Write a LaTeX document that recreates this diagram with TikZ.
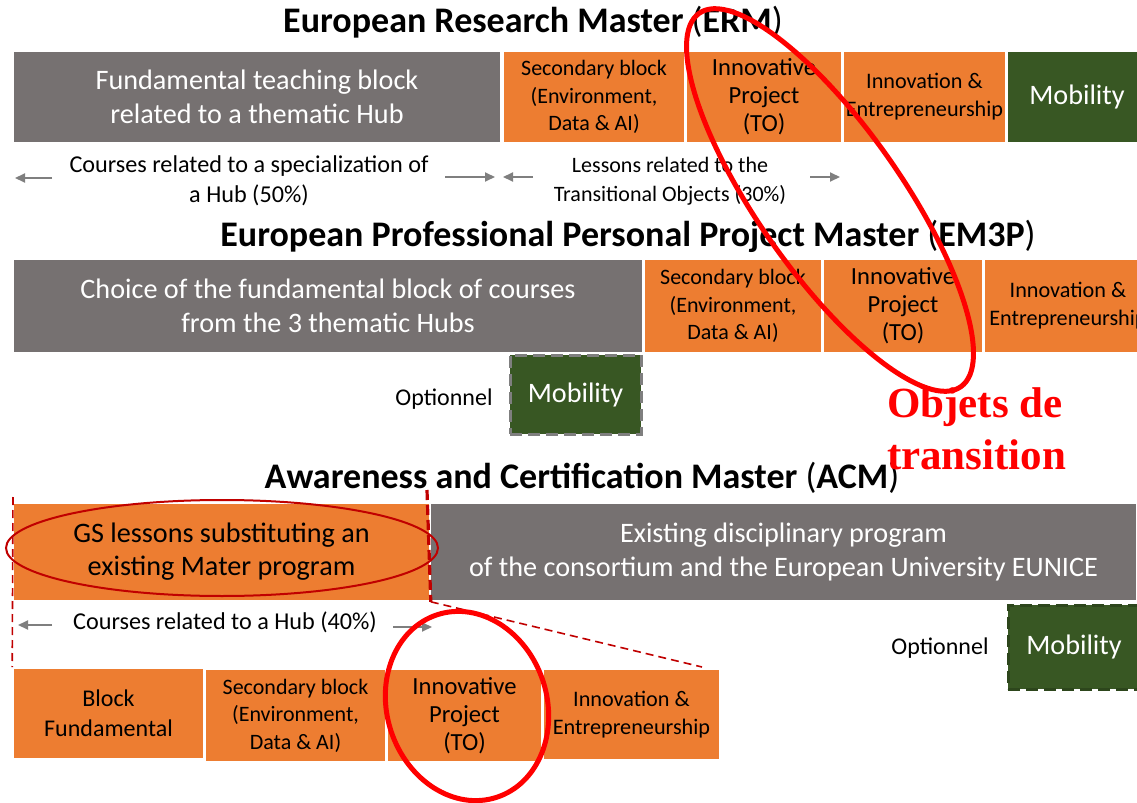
\documentclass[tikz,border=0pt]{standalone}
\usepackage{fontspec}
\setmainfont{Carlito}
\newfontfamily\objfont{Liberation Serif}
\usetikzlibrary{arrows.meta}
\definecolor{boxgrey}{HTML}{767171}
\definecolor{boxorange}{HTML}{ED7D31}
\definecolor{mobgreen}{HTML}{385723}
\definecolor{acmred}{HTML}{C00000}
\definecolor{arrgrey}{HTML}{7F7F7F}

\begin{document}
\begin{tikzpicture}[x=0.5pt, y=-0.5pt,
  title/.style={font=\fontsize{18}{22}\selectfont\bfseries},
  greybox/.style={fill=boxgrey, draw=white, line width=0.8pt, text=white, align=center, inner sep=0pt, font=\fontsize{14.1}{17}\selectfont},
  orangebox/.style={fill=boxorange, draw=white, line width=0.8pt, align=center, inner sep=0pt, font=\fontsize{11}{13.8}\selectfont},
  ipbox/.style={orangebox, font=\fontsize{12.3}{14}\selectfont},
  iebox/.style={orangebox, font=\fontsize{11.1}{14}\selectfont},
  mobbox/.style={fill=mobgreen, draw=white, line width=0.8pt, text=white, inner sep=0pt, font=\fontsize{14.1}{16}\selectfont},
  optbox/.style={mobbox, draw=arrgrey, line width=1.5pt, dash pattern=on 6pt off 3pt},
  note/.style={align=center, font=\fontsize{12.1}{15}\selectfont},
  optnote/.style={font=\fontsize{12}{14}\selectfont},
  arr/.style={draw=arrgrey, line width=1pt, -{Triangle[length=5pt, width=4.5pt]}},
  ring/.style={draw=red, line width=2.5pt},
  cut/.style={draw=acmred, line width=0.8pt, dash pattern=on 4pt off 2.5pt}]
\useasboundingbox (0,0) rectangle (1137,803);
\clip (0,0) rectangle (1137,803);

\node[title] (ermtitle) at (533,22) {European Research Master {\mdseries(}ERM{\mdseries)}};
\node[greybox, minimum width=244pt, minimum height=46pt] (ermfund) at (257,97) {Fundamental teaching block\\related to a thematic Hub};
\node[orangebox, minimum width=91pt, minimum height=46pt] (ermsec) at (594,97) {Secondary block\\(Environment,\\Data \& AI)};
\node[ipbox, minimum width=78pt, minimum height=46pt] (ermip) at (764,97) {Innovative\\Project\\(TO)};
\node[iebox, minimum width=81.5pt, minimum height=46pt] (ermie) at (924.5,97) {Innovation \&\\Entrepreneurship};
\node[mobbox, minimum width=70pt, minimum height=46pt] (ermmob) at (1077,97) {Mobility};

\node[note] (spec50) at (249,181) {Courses related to a specialization of\\a Hub (50\%)};
\node[note, font=\fontsize{11}{14.5}\selectfont] (trans30) at (670,181) {Lessons related to the\\Transitional Objects (30\%)};
\coordinate (spec50l) at (52,178);
\coordinate (spec50le) at (15,178);
\coordinate (spec50r) at (445,177);
\coordinate (spec50re) at (495,177);
\coordinate (trans30l) at (533,177);
\coordinate (trans30le) at (503,177);
\coordinate (trans30r) at (810,177);
\coordinate (trans30re) at (840,177);
\draw[arr] (spec50l) -- (spec50le);
\draw[arr] (spec50r) -- (spec50re);
\draw[arr] (trans30l) -- (trans30le);
\draw[arr] (trans30r) -- (trans30re);

\node[title] (emtitle) at (628,236) {European Professional Personal Project Master {\mdseries(}EM3P{\mdseries)}};
\node[greybox, minimum width=315pt, minimum height=47pt] (emfund) at (328,306) {Choice of the fundamental block of courses\\from the 3 thematic Hubs};
\node[orangebox, minimum width=89pt, minimum height=47pt] (emsec) at (733,306) {Secondary block\\(Environment,\\Data \& AI)};
\node[ipbox, minimum width=80pt, minimum height=47pt] (emip) at (903,306) {Innovative\\Project\\(TO)};
\node[iebox, minimum width=84pt, minimum height=47pt] (emie) at (1068,306) {Innovation \&\\Entrepreneurship};
\node[optbox, minimum width=65.5pt, minimum height=39.5pt] (emmob) at (575.5,394.5) {Mobility};
\node[optnote] (emopt) at (444,399) {Optionnel};

\node[title] (acmtitle) at (582,478) {Awareness and Certification Master {\mdseries(}ACM{\mdseries)}};
\node[orangebox, font=\fontsize{14.1}{16.5}\selectfont, minimum width=208.5pt, minimum height=49pt] (acmgs) at (221.5,552) {GS lessons substituting an\\existing Mater program};
\node[greybox, minimum width=353.5pt, minimum height=49pt] (acmex) at (783.5,552) {Existing disciplinary program\\of the consortium and the European University EUNICE};
\draw[draw=acmred, line width=1pt] (222,548) ellipse [x radius=108pt, y radius=24pt];

\node[note] (hub40) at (225,622) {Courses related to a Hub (40\%)};
\coordinate (hub40l) at (52,625);
\coordinate (hub40le) at (18,625);
\coordinate (hub40r) at (393,627);
\coordinate (hub40re) at (432,627);
\draw[arr] (hub40l) -- (hub40le);
\draw[arr] (hub40r) -- (hub40re);

\node[optnote] (acmopt) at (940,648) {Optionnel};
\node[optbox, draw=mobgreen!80!black, minimum width=66pt, minimum height=42pt] (acmmob) at (1074,647) {Mobility};

\node[orangebox, font=\fontsize{12}{15}\selectfont, minimum width=95.5pt, minimum height=45.5pt] (botfund) at (108.5,713.5) {Block\\Fundamental};
\node[orangebox, minimum width=90.5pt, minimum height=46.5pt] (botsec) at (295.5,715.5) {Secondary block\\(Environment,\\Data \& AI)};
\node[ipbox, minimum width=77.5pt, minimum height=46.5pt] (botip) at (464.5,715.5) {Innovative\\Project\\(TO)};
\node[iebox, minimum width=88.5pt, minimum height=45.5pt] (botie) at (631.5,714.5) {Innovation \&\\Entrepreneurship};

\coordinate (cuttop) at (427,490);
\coordinate (lefttop) at (13,497);
\coordinate (zoomend) at (702,667);
\draw[cut, line width=1.6pt, dash pattern=on 5pt off 2.5pt] (cuttop) -- (acmgs.south east);
\draw[cut] (lefttop) -- (botfund.north west);
\draw[cut] (acmgs.south east) -- (zoomend);

\draw[ring, rotate around={-55:(830,200)}] (830,200) ellipse [x radius=114pt, y radius=36pt];
\draw[ring, rotate around={-72:(467,706)}] (467,706) ellipse [x radius=48pt, y radius=40pt];
\node[text=red, anchor=west, align=left, font=\objfont\bfseries\fontsize{21.5}{26}\selectfont] (objets) at (880,429) {Objets de\\transition};
\end{tikzpicture}
\end{document}
